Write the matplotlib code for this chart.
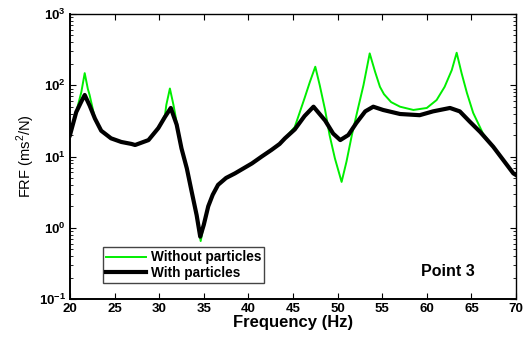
import matplotlib
matplotlib.use('Agg')
import matplotlib.pyplot as plt
from matplotlib.ticker import LogLocator, NullFormatter

plt.rcParams['font.family'] = ['Liberation Sans', 'DejaVu Sans']
plt.rcParams['mathtext.fontset'] = 'custom'
plt.rcParams['mathtext.rm'] = 'Liberation Sans'
plt.rcParams['mathtext.bf'] = 'Liberation Sans:bold'

# with particles (black)
black_f = [20, 20.7, 21.3, 21.65, 22.2, 22.8, 23.5, 24.6, 25.75, 26.9, 27.3, 28.8, 29.9, 30.65,
           31.3, 31.96, 32.5, 33.1, 33.6, 34.2, 34.6, 35.0, 35.5, 36.0, 36.6, 37.5, 38.5, 40.4,
           41.5, 42.6, 43.5, 44.1, 45.2, 46.3, 47.3, 48.6, 49.5, 50.3, 51.2, 52.1, 53.1, 54.0,
           55.1, 57.0, 59.2, 60.7, 62.6, 63.7, 64.8, 66.0, 67.45, 69.7, 70]
black_v = [20, 42, 60, 73, 52, 34, 23, 18, 16, 15, 14.5, 17, 25, 36,
           48, 28, 13, 6.8, 3.4, 1.5, 0.75, 1.1, 2.0, 2.9, 4.0, 5.0, 5.8, 8,
           10, 12.4, 15, 18, 24, 37, 50, 32, 21, 17, 20, 29.5, 43, 50,
           45, 39.5, 38, 43, 48, 43, 31, 22, 13.7, 5.8, 5.5]

# without particles (green)
green_f = [20, 20.7, 21.27, 21.65, 22.0, 22.2, 22.8, 23.5, 24.6, 25.75, 26.9, 27.3, 28.8, 29.9,
           30.65, 30.8, 31.2, 31.6, 31.96, 32.5, 33.1, 33.6, 34.2, 34.65, 35.0, 35.5, 36.0, 36.6,
           37.5, 38.5, 40.4, 41.5, 42.6, 43.5, 44.1, 45.2, 46.3, 46.9, 47.5, 48.0, 48.6, 49.1,
           49.7, 50.45, 51.0, 51.6, 52.3, 52.9, 53.6, 54.2, 54.75, 55.2, 56.0, 57.0, 58.5, 60.0,
           61.1, 62.0, 62.8, 63.35, 63.9, 64.5, 65.2, 66.3, 67.45, 69.7, 70]
green_v = [20, 42, 80, 148, 89, 73, 34, 23, 18, 16, 15, 14.5, 17, 25,
           38, 53, 90, 53, 30, 13, 6.8, 3.4, 1.4, 0.65, 1.1, 2.0, 2.9, 4.0,
           5.0, 5.8, 8, 10, 12.4, 15, 18, 26, 66, 112, 182, 100, 45, 20,
           9.4, 4.4, 8.5, 20, 48, 100, 280, 155, 95, 75, 58, 50, 45, 48,
           62, 95, 163, 286, 148, 78, 41, 21, 13.7, 5.8, 5.5]

x_ticks = [20, 25, 30, 35, 40, 45, 50, 55, 60, 65, 70]
y_ticks = [0.1, 1, 10, 100, 1000]
y_labels = [r'$\mathbf{10^{-1}}$', r'$\mathbf{10^{0}}$', r'$\mathbf{10^{1}}$',
            r'$\mathbf{10^{2}}$', r'$\mathbf{10^{3}}$']

fig = plt.figure(figsize=(5.29, 3.40), dpi=100)
ax = fig.add_axes([0.1323, 0.1206, 0.8431, 0.8382])

ax.plot(green_f, green_v, color='#00ee00', lw=1.4, label='Without particles', zorder=2)
ax.plot(black_f, black_v, color='k', lw=3.0, label='With particles', zorder=3,
        solid_joinstyle='round')

ax.set_yscale('log')
ax.set_xlim(20, 70)
ax.set_ylim(0.1, 1000)
ax.set_xticks(x_ticks)
ax.set_xticklabels([str(t) for t in x_ticks], fontweight='bold', fontsize=9.5)
ax.set_yticks(y_ticks)
ax.set_yticklabels(y_labels, fontsize=9.5)
ax.yaxis.set_minor_locator(LogLocator(base=10, subs=range(2, 10), numticks=20))
ax.yaxis.set_minor_formatter(NullFormatter())
ax.tick_params(which='both', direction='in', top=True, right=True)
ax.tick_params(which='major', length=4, width=0.8, pad=3)
ax.tick_params(which='minor', length=2, width=0.6)
for s in ax.spines.values():
    s.set_linewidth(1.0)
ax.spines['left'].set_linewidth(1.4)
ax.spines['bottom'].set_linewidth(1.4)

ax.set_xlabel('Frequency (Hz)', fontsize=12, fontweight='bold', labelpad=0)
ax.set_ylabel(r'FRF (ms$^{2}$/N)', fontsize=10.5, labelpad=1)

ax.legend(loc='lower left', bbox_to_anchor=(0.074, 0.056), borderaxespad=0, fancybox=False,
          edgecolor='#444444', framealpha=1, prop={'weight': 'bold', 'size': 9.8},
          handlelength=2.9, borderpad=0.25, labelspacing=0.1, handletextpad=0.35)

ax.text(0.848, 0.095, 'Point 3', transform=ax.transAxes, ha='center', va='center',
        fontsize=11.5, fontweight='bold')

fig.savefig('out.png', dpi=100)
